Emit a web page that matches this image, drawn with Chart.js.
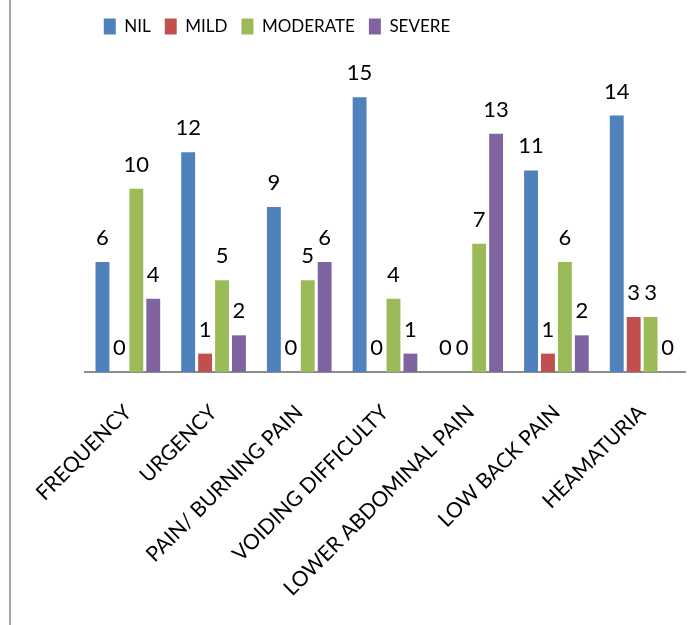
<!DOCTYPE html>
<html>
<head>
<meta charset="utf-8">
<script src="https://cdn.jsdelivr.net/npm/chart.js@4.4.0/dist/chart.umd.min.js"></script>
<style>
  body { margin: 0; background: #fff; }
  #wrap { position: relative; width: 696px; height: 625px; }
  #edge { position: absolute; left: 9px; top: 0; width: 2px; height: 625px; background: #a6a6a6; }
</style>
</head>
<body>
<div id="wrap">
  <div id="edge"></div>
  <canvas id="myChart" width="696" height="625"></canvas>
</div>
<script>
// chart data
var categories = ['FREQUENCY', 'URGENCY', 'PAIN/ BURNING PAIN', 'VOIDING DIFFICULTY', 'LOWER ABDOMINAL PAIN', 'LOW BACK PAIN', 'HEAMATURIA'];
var nilValues = [6, 12, 9, 15, 0, 11, 14];
var mildValues = [0, 1, 0, 0, 0, 1, 3];
var moderateValues = [10, 5, 5, 4, 7, 6, 3];
var severeValues = [4, 2, 6, 1, 13, 2, 0];

var font = 'Lato';

// numbers above each bar
const barLabels = {
    id: 'barLabels',
    afterDatasetsDraw(chart) {
        const ctx = chart.ctx;
        ctx.save();
        ctx.font = '22px ' + font;
        ctx.fillStyle = '#000';
        ctx.textAlign = 'center';
        ctx.textBaseline = 'alphabetic';
        chart.data.datasets.forEach(function (ds, i) {
            chart.getDatasetMeta(i).data.forEach(function (bar, j) {
                ctx.fillText(ds.data[j], bar.x, bar.y - 17);
            });
        });
        ctx.restore();
    }
};

// the legend sits left of centre in the original
const legendShift = {
    id: 'legendShift',
    afterLayout(chart) {
        chart.legend.left -= 108;
        chart.legend.right -= 108;
    }
};

const ctx = document.getElementById('myChart').getContext('2d');
var myChart = new Chart(ctx, {
    type: 'bar',
    data: {
        labels: categories,
        datasets: [
            { label: 'NIL', data: nilValues, backgroundColor: '#4F81BD' },
            { label: 'MILD', data: mildValues, backgroundColor: '#C0504D' },
            { label: 'MODERATE', data: moderateValues, backgroundColor: '#9BBB59' },
            { label: 'SEVERE', data: severeValues, backgroundColor: '#8064A2' }
        ]
    },
    options: {
        responsive: false,
        animation: false,
        categoryPercentage: 0.79,
        barPercentage: 0.82,
        layout: { padding: { left: 85, right: 11, top: 4, bottom: 4 } },
        plugins: {
            legend: {
                position: 'top',
                labels: {
                    boxWidth: 12,
                    boxHeight: 16,
                    color: '#000',
                    font: { family: font, size: 17 },
                    padding: 14
                }
            },
            tooltip: { enabled: false }
        },
        scales: {
            x: {
                grid: { display: false },
                border: { display: true, color: '#8c8c8c', width: 2 },
                ticks: {
                    color: '#000',
                    font: { family: font, size: 21 },
                    minRotation: 45,
                    maxRotation: 45,
                    padding: 20
                }
            },
            y: {
                display: false,
                min: 0,
                max: 17.85
            }
        }
    },
    plugins: [barLabels, legendShift]
});
</script>
</body>
</html>
